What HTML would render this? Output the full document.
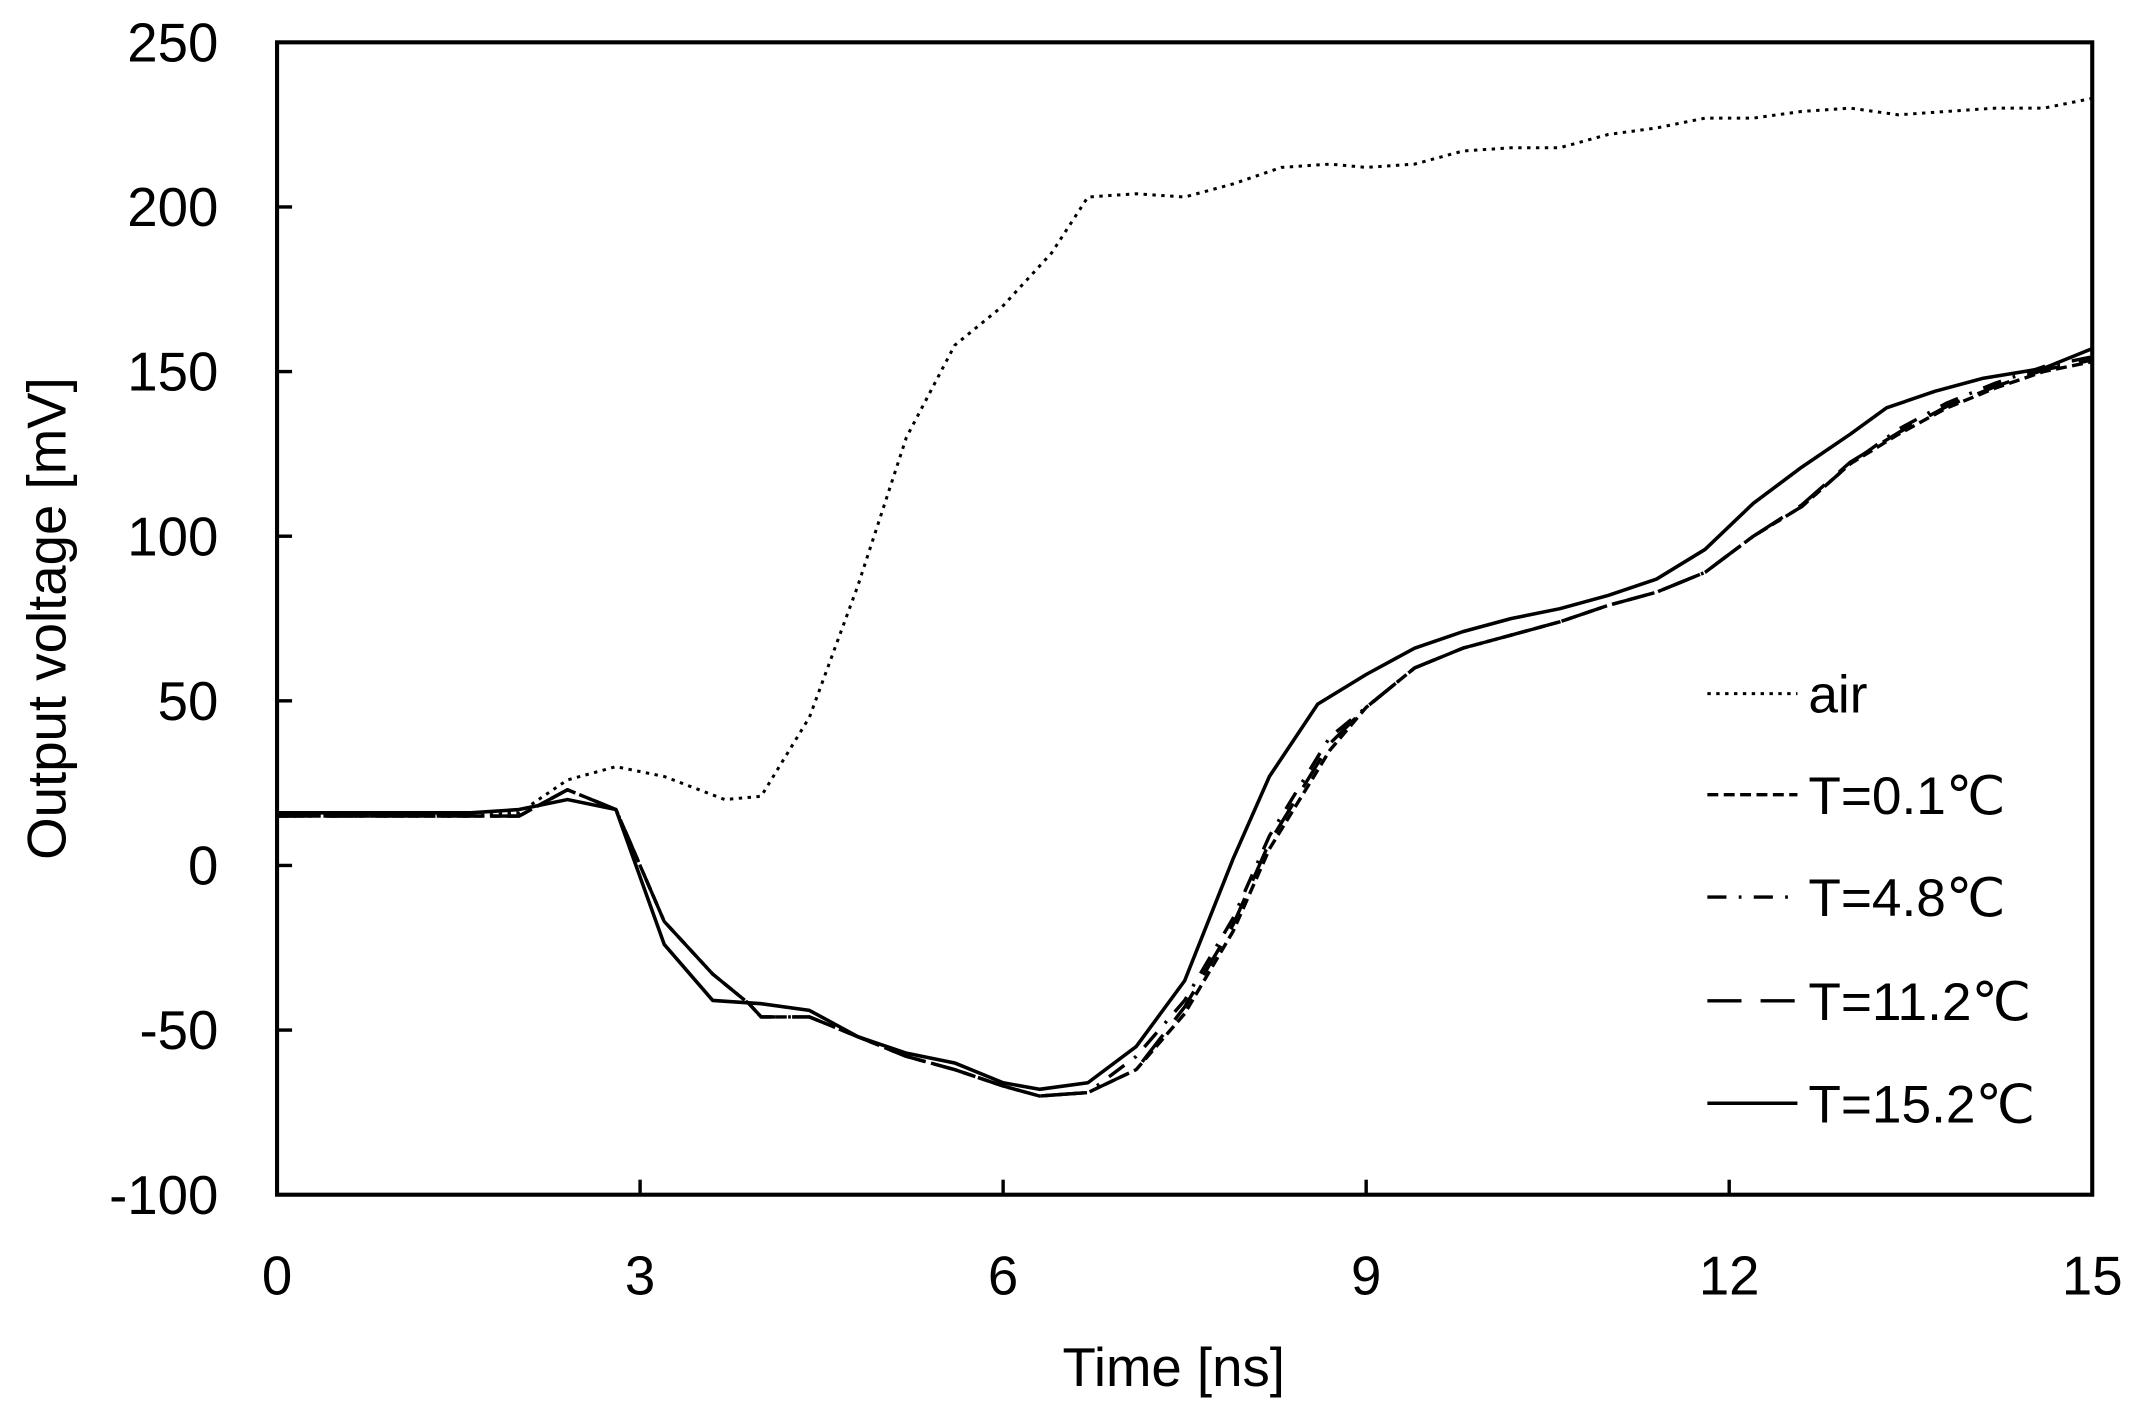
<!DOCTYPE html>
<html><head><meta charset="utf-8"><style>
html,body{margin:0;padding:0;background:#fff;}
svg{display:block;}
text{font-family:"Liberation Sans",Arial,sans-serif;fill:#000;}
</style></head><body>
<svg id="s" width="2140" height="1420" viewBox="0 0 1568 1040" preserveAspectRatio="none" xmlns="http://www.w3.org/2000/svg">
<rect x="0" y="0" width="1568" height="1040" fill="#fff"/>
<g id="series" fill="none" stroke="#000" stroke-linejoin="round"></g>
<rect x="203" y="31" width="1330" height="844" fill="none" stroke="#000" stroke-width="3"/>
<g id="ticks" stroke="#000" stroke-width="2.5"></g>
<g id="labels" font-size="40"></g>
<text x="860" y="1015" font-size="40" text-anchor="middle">Time [ns]</text>
<text transform="translate(48,453) rotate(-90)" font-size="40" text-anchor="middle">Output voltage [mV]</text>
<g stroke="#000" stroke-width="2.5">
<line x1="1251" y1="508" x2="1317" y2="508" stroke-dasharray="2.5 4" stroke-width="2.2"/>
<line x1="1251" y1="582" x2="1317" y2="582" stroke-dasharray="8 4"/>
<line x1="1251" y1="657" x2="1317" y2="657" stroke-dasharray="14 9 2 9"/>
<line x1="1251" y1="733" x2="1317" y2="733" stroke-dasharray="25 14"/>
<line x1="1251" y1="808" x2="1317" y2="808"/>
</g>
<g font-size="39">
<text x="1325" y="522">air</text>
<text x="1325" y="596">T=0.1℃</text>
<text x="1325" y="671">T=4.8℃</text>
<text x="1325" y="747">T=11.2℃</text>
<text x="1325" y="822">T=15.2℃</text>
</g>
</svg>
<script>
const X=t=>203+t*1330/15, Y=v=>875-(v+100)*844/350;
const NS="http://www.w3.org/2000/svg";
function el(p,n,a,txt){const e=document.createElementNS(NS,n);for(const k in a)e.setAttribute(k,a[k]);if(txt!=null)e.textContent=txt;p.appendChild(e);return e;}
const tk=document.getElementById('ticks'),lb=document.getElementById('labels');
for(let v=-100;v<=250;v+=50){el(tk,'line',{x1:203,x2:214,y1:Y(v),y2:Y(v)});el(lb,'text',{x:160,y:Y(v)+14,'text-anchor':'end'},String(v));}
for(let t=0;t<=15;t+=3){el(tk,'line',{x1:X(t),x2:X(t),y1:875,y2:864});el(lb,'text',{x:X(t),y:948,'text-anchor':'middle'},String(t));}
const air=[[0,16],[0.4,16],[1,16],[1.6,15],[2,16],[2.4,26],[2.8,30],[3.2,27],[3.7,20],[4,21],[4.4,45],[4.8,85],[5.2,130],[5.6,158],[6,170],[6.4,186],[6.7,203],[7.1,204],[7.5,203],[7.9,207],[8.3,212],[8.7,213],[9,212],[9.4,213],[9.8,217],[10.2,218],[10.6,218],[11,222],[11.4,224],[11.8,227],[12.2,227],[12.6,229],[13,230],[13.4,228],[13.8,229],[14.2,230],[14.6,230],[15,233]];
const s152=[[0,16],[0.8,16],[1.6,16],[2,17],[2.4,20],[2.8,17],[3.2,-24],[3.6,-41],[4,-42],[4.4,-44],[4.8,-52],[5.2,-57],[5.6,-60],[6,-66],[6.3,-68],[6.7,-66],[7.1,-55],[7.5,-35],[7.9,2],[8.2,27],[8.6,49],[9,58],[9.4,66],[9.8,71],[10.2,75],[10.6,78],[11,82],[11.4,87],[11.8,96],[12.2,110],[12.6,121],[13,131],[13.3,139],[13.7,144],[14.1,148],[14.6,151],[15,157]];
const s01=[[0,15],[1,15],[2,15],[2.4,23],[2.8,17],[3.2,-17],[3.6,-33],[3.9,-42],[4,-46],[4.4,-46],[4.8,-52],[5.2,-58],[5.6,-62],[6,-67],[6.3,-70],[6.7,-69],[7.1,-62],[7.5,-45],[7.9,-20],[8.2,5],[8.7,35],[9,48],[9.4,60],[9.8,66],[10.2,70],[10.6,74],[11,79],[11.4,83],[11.8,89],[12.2,100],[12.6,109],[13,122],[13.4,131],[13.8,139],[14.2,145],[14.6,150],[15,153]];
const s48=s01.map(([t,v])=>[t,v+(t>7&&t<9?4:0)+(t>13?1.5:0)]);
const s112=s01.map(([t,v])=>[t,v+(t>7.3&&t<8.8?2:0)+(t>12.5?0.5:0)]);
const g=document.getElementById('series');
function path(d,dash,w){el(g,'path',{d:d.map((p,i)=>(i?'L':'M')+X(p[0]).toFixed(1)+' '+Y(p[1]).toFixed(1)).join(''),'stroke-dasharray':dash||'none','stroke-width':w||2.5});}
path(air,'2.5 4',2.2);
path(s01,'8 4');
path(s48,'14 9 2 9');
path(s112,'25 14');
path(s152,null,2.6);
</script>
</body></html>
